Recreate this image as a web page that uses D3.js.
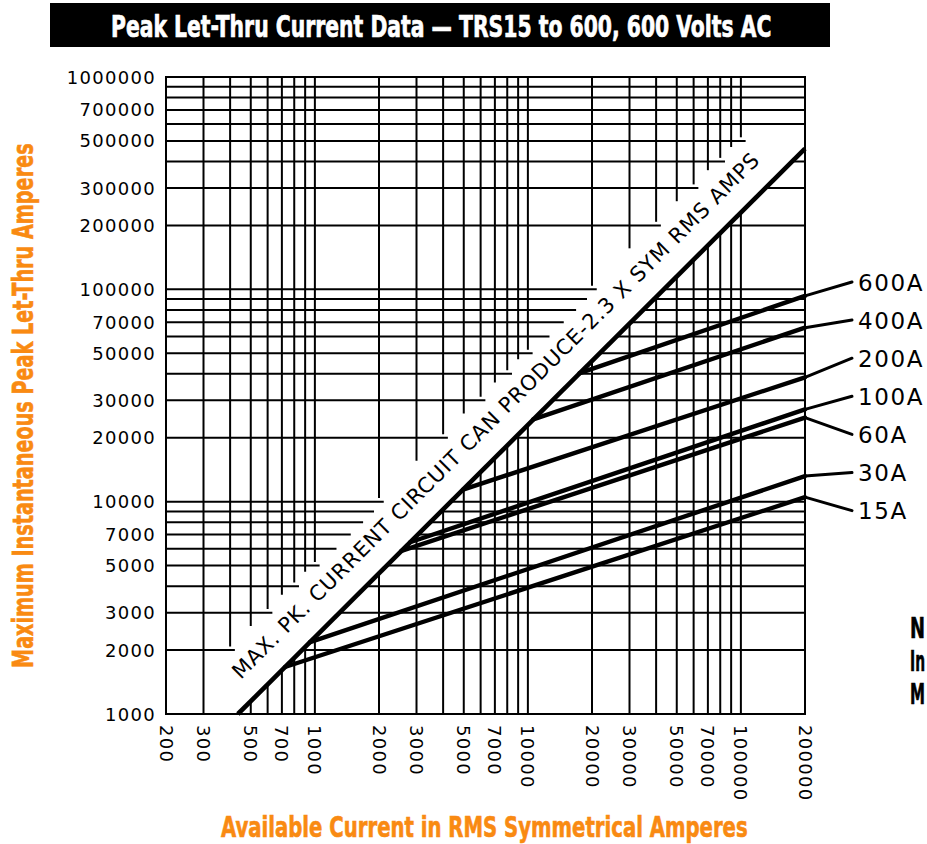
<!DOCTYPE html>
<html>
<head>
<meta charset="utf-8">
<script src="https://cdn.jsdelivr.net/npm/d3@7/dist/d3.min.js"></script>
<style>
  html, body { margin: 0; padding: 0; background: #fff; }
  svg { display: block; overflow: hidden; }
</style>
</head>
<body>
<svg id="chart" width="927" height="844"></svg>
<script>
// ---------------- DATA ----------------
const titleText = "Peak Let-Thru Current Data \u2014 TRS15 to 600, 600 Volts AC";
const yTitle = "Maximum Instantaneous Peak Let-Thru Amperes";
const xTitle = "Available Current in RMS Symmetrical Amperes";
const diagText = "MAX. PK. CURRENT CIRCUIT CAN PRODUCE-2.3 X SYM RMS AMPS";
const noteLines = ["N", "In", "M"];

const xTickLabels = [200, 300, 500, 700, 1000, 2000, 3000, 5000, 7000, 10000, 20000, 30000, 50000, 70000, 100000, 200000];
const yTickLabels = [1000, 2000, 3000, 5000, 7000, 10000, 20000, 30000, 50000, 70000, 100000, 200000, 300000, 500000, 700000, 1000000];

const xGridValues = [200, 300, 400, 500, 600, 700, 800, 900, 1000,
  2000, 3000, 4000, 5000, 6000, 7000, 8000, 9000, 10000,
  20000, 30000, 40000, 50000, 60000, 70000, 80000, 90000, 100000, 200000];
const yGridValues = [1000, 2000, 3000, 4000, 5000, 6000, 7000, 8000, 9000, 10000,
  20000, 30000, 40000, 50000, 60000, 70000, 80000, 90000, 100000,
  200000, 300000, 400000, 500000, 600000, 700000, 800000, 900000, 1000000];

// Max peak line (2.3 x symmetrical RMS)
const diagCurrent = [435, 200000];
const diagPeak = [1000, 460000];

// Fuse let-thru curves
const fuseLabels = ["600A", "400A", "200A", "100A", "60A", "30A", "15A"];
const fuseStartCurrent = [17500, 10600, 4960, 2800, 2550, 949, 724];
const fuseStartPeak = [40300, 24400, 11400, 6440, 5870, 2180, 1665];
const fuseEndCurrent = [200000, 200000, 200000, 200000, 200000, 200000, 200000];
const fuseEndPeak = [93100, 66000, 38500, 27200, 24900, 13200, 10500];

// ---------------- LAYOUT ----------------
const svg = d3.select("#chart");
const orange = "#F98A12";
const plotFont = "'DejaVu Sans', Verdana, sans-serif";
const condFont = "'Liberation Sans Narrow', 'DejaVu Sans Condensed', 'Liberation Sans', Arial, sans-serif";

const x = d3.scaleLog().domain([200, 200000]).range([166, 805]);
const y = d3.scaleLog().domain([1000, 1000000]).range([714, 77]);

const upperRatioH = 4.75; // where horizontal grid lines stop above the band
const upperRatioV = 5.2;  // where vertical grid lines stop above the band
const bandStartCurrent = 350;   // band (text strip) begins right of this
const bandEndPeak = 550000;     // band ends below this
const diagRatio = diagPeak[0] / diagCurrent[0];

// Fit a text horizontally to a target width using a scale transform
function fitted(parent, str, tx, ty, rot, target, attrs, onlyShrink) {
  const t = parent.append("text").text(str);
  Object.entries(attrs).forEach(([k, v]) => t.attr(k, v));
  const w = t.node().getComputedTextLength();
  let k = target / w;
  if (onlyShrink) k = Math.min(1, k);
  t.attr("transform", `translate(${tx},${ty}) rotate(${rot}) scale(${k},1)`);
  return t;
}

// Title bar
svg.append("rect").attr("x", 50).attr("y", 3).attr("width", 780).attr("height", 44).attr("fill", "#000");
fitted(svg, titleText, 111, 37, 0, 661, {
  "font-family": condFont, "font-weight": "bold", "font-size": 31,
  "fill": "#fff", "stroke": "#fff", "stroke-width": 0.7
});

// Grid
const grid = svg.append("g").attr("stroke", "#000").attr("stroke-width", 2).attr("fill", "none");
const [xmin, xmax] = x.domain();
const [ymin, ymax] = y.domain();

xGridValues.forEach(v => {
  const yStop = v < bandStartCurrent ? ymin : Math.max(ymin, upperRatioV * v);
  if (yStop < ymax) {
    grid.append("line").attr("x1", x(v)).attr("x2", x(v)).attr("y1", y(ymax)).attr("y2", y(yStop));
  }
  const yDiag = Math.min(ymax, diagRatio * v);
  if (yDiag > ymin) {
    grid.append("line").attr("x1", x(v)).attr("x2", x(v)).attr("y1", y(ymin)).attr("y2", y(yDiag));
  }
});
yGridValues.forEach(w => {
  const xStop = w > bandEndPeak ? xmax : Math.min(xmax, w / upperRatioH);
  if (xStop > xmin) {
    grid.append("line").attr("x1", x(xmin)).attr("x2", x(xStop)).attr("y1", y(w)).attr("y2", y(w));
  }
  const xDiag = Math.max(xmin, w / diagRatio);
  if (xDiag < xmax && xStop < xmax) {
    grid.append("line").attr("x1", x(xDiag)).attr("x2", x(xmax)).attr("y1", y(w)).attr("y2", y(w));
  }
});
grid.append("rect").attr("x", x(xmin)).attr("y", y(ymax))
  .attr("width", x(xmax) - x(xmin)).attr("height", y(ymin) - y(ymax));

// Y tick labels
svg.append("g").selectAll("text").data(yTickLabels).join("text")
  .attr("x", 156).attr("y", d => y(d) + 6.5)
  .attr("text-anchor", "end")
  .attr("font-family", plotFont).attr("font-size", 18).attr("letter-spacing", 1.3)
  .attr("fill", "#000")
  .text(d => d);

// X tick labels (rotated)
svg.append("g").selectAll("text").data(xTickLabels).join("text")
  .attr("transform", d => `translate(${x(d)},725) rotate(90)`)
  .attr("dy", "0.36em")
  .attr("font-family", plotFont).attr("font-size", 18).attr("letter-spacing", 1.3)
  .attr("fill", "#000")
  .text(d => d);

// Diagonal max-peak line
const line = d3.line().x(d => x(d[0])).y(d => y(d[1]));
svg.append("path")
  .attr("d", line(diagCurrent.map((c, i) => [c, diagPeak[i]])))
  .attr("stroke", "#000").attr("stroke-width", 4.6).attr("fill", "none");

// Diagonal text
{
  const p0 = [x(diagCurrent[0]), y(diagPeak[0])];
  const p1 = [x(diagCurrent[1]), y(diagPeak[1])];
  const len = Math.hypot(p1[0] - p0[0], p1[1] - p0[1]);
  const u = [(p1[0] - p0[0]) / len, (p1[1] - p0[1]) / len];
  const n = [u[1], -u[0]];
  const s0 = 26, off = 22;
  const tx = p0[0] + u[0] * s0 + n[0] * off;
  const ty = p0[1] + u[1] * s0 + n[1] * off;
  const ang = Math.atan2(u[1], u[0]) * 180 / Math.PI;
  svg.append("text")
    .attr("transform", `translate(${tx},${ty}) rotate(${ang})`)
    .attr("font-family", plotFont).attr("font-size", 21)
    .attr("textLength", 734).attr("lengthAdjust", "spacing")
    .attr("fill", "#000")
    .text(diagText);
}

// Fuse curves
const fuses = fuseLabels.map((lab, i) => ({
  label: lab,
  pts: [[fuseStartCurrent[i], fuseStartPeak[i]], [fuseEndCurrent[i], fuseEndPeak[i]]]
}));
svg.append("g").selectAll("path").data(fuses).join("path")
  .attr("d", d => line(d.pts))
  .attr("stroke", "#000").attr("stroke-width", 4.4).attr("fill", "none")
  .attr("stroke-linecap", "round");

// Leaders and labels
const labelX = 852, labelTop = 282, labelStep = 38.1;
const lg = svg.append("g");
fuses.forEach((f, i) => {
  const ex = x(f.pts[1][0]), ey = y(f.pts[1][1]);
  const ly = labelTop + i * labelStep;
  lg.append("line").attr("x1", ex).attr("y1", ey).attr("x2", labelX).attr("y2", ly)
    .attr("stroke", "#000").attr("stroke-width", 3).attr("stroke-linecap", "round");
  lg.append("text").attr("x", labelX + 6).attr("y", ly + 8.5)
    .attr("font-family", plotFont).attr("font-size", 23).attr("letter-spacing", 1.6)
    .attr("fill", "#000").text(f.label);
});

// Axis titles
fitted(svg, yTitle, 33, 668, -90, 525, {
  "font-family": condFont, "font-weight": "bold", "font-size": 28,
  "fill": orange, "stroke": orange, "stroke-width": 0.6
});
fitted(svg, xTitle, 221, 837, 0, 527, {
  "font-family": condFont, "font-weight": "bold", "font-size": 28,
  "fill": orange, "stroke": orange, "stroke-width": 0.6
});

// Note text at the right edge (squeezed to stay inside the picture)
noteLines.forEach((s, i) => {
  fitted(svg, s, 910, 638 + i * 33, 0, 15, {
    "font-family": condFont, "font-weight": "bold", "font-size": 29,
    "fill": "#000", "stroke": "#000", "stroke-width": 0.6
  }, true);
});
</script>
</body>
</html>
